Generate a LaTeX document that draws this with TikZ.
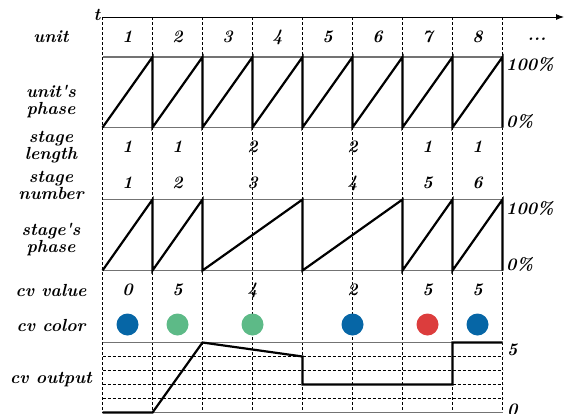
\documentclass[tikz,border=0pt]{standalone}
\usetikzlibrary{arrows.meta}
\definecolor{cvblue}{HTML}{0666A6}
\definecolor{cvgreen}{HTML}{5DBA87}
\definecolor{cvred}{HTML}{DC3D3D}
\begin{document}
\begin{tikzpicture}[x=1pt,y=-1pt,
  font=\fontsize{17.5}{17}\selectfont\bfseries\itshape,
  lbl/.style={align=center, inner sep=0pt},
  val/.style={inner sep=0pt},
  gridline/.style={dash pattern=on 3pt off 2pt, line width=0.7pt},
  rail/.style={black!55, line width=1.2pt},
  wave/.style={line width=2.2pt, line join=miter},
  dot/.style={circle, minimum size=22pt, inner sep=0pt}]
\useasboundingbox (0,0) rectangle (565,413);

% vertical dashed grid
\foreach \i in {0,...,8} {
  \coordinate (vt\i) at (102.5+50*\i,17);
  \coordinate (vb\i) at (102.5+50*\i,413);
  \draw[gridline] (vt\i) -- (vb\i);
}
% time axis
\coordinate (tend) at (564,17);
\draw[line width=0.9pt, -{Latex[length=8pt,width=6pt]}] (vt0) -- (tend);
\node[val, anchor=base east] (tlab) at (100.5,20) {t};

% left labels
\node[lbl] (Lunit) at (51,37) {unit};
\node[lbl] (Luph) at (51,101.5) {unit\textquotesingle s\\phase};
\node[lbl] (Lslen) at (51,147.5) {stage\\length};
\node[lbl] (Lsnum) at (51,185) {stage\\number};
\node[lbl] (Lsph) at (51,240) {stage\textquotesingle s\\phase};
\node[lbl] (Lcvv) at (51,290) {cv value};
\node[lbl] (Lcvc) at (51,325) {cv color};
\node[lbl] (Lcvo) at (51,380) {cv output};

% unit numbers
\foreach \i in {1,...,8} {
  \node[val] (u\i) at (77.5+50*\i,37) {\i};
}
\node[val] (udots) at (537,39) {...};

% unit's phase box
\coordinate (ua0) at (102.5,57);   \coordinate (ua1) at (502.5,57);
\coordinate (ub0) at (102.5,127.5); \coordinate (ub1) at (502.5,127.5);
\draw[rail] (ua0) -- (ua1);
\draw[rail] (ub0) -- (ub1);
\draw[wave] (102.5,127.5)
  \foreach \i in {1,...,8} { -- (102.5+50*\i,57) -- (102.5+50*\i,127.5) };
\node[val, anchor=north west] (u100) at (506,57) {100\%};
\node[val, anchor=south west] (u0) at (506,128.5) {0\%};

% stage length / number
\node[val] (sl1) at (127.5,147) {1};
\node[val] (sl2) at (177.5,147) {1};
\node[val] (sl3) at (252.5,147) {2};
\node[val] (sl4) at (352.5,147) {2};
\node[val] (sl5) at (427.5,147) {1};
\node[val] (sl6) at (477.5,147) {1};
\node[val] (sn1) at (127.5,183) {1};
\node[val] (sn2) at (177.5,183) {2};
\node[val] (sn3) at (252.5,183) {3};
\node[val] (sn4) at (352.5,183) {4};
\node[val] (sn5) at (427.5,183) {5};
\node[val] (sn6) at (477.5,183) {6};

% stage's phase box
\coordinate (sa0) at (102.5,199.5); \coordinate (sa1) at (502.5,199.5);
\coordinate (sb0) at (102.5,270.5); \coordinate (sb1) at (502.5,270.5);
\draw[rail] (sa0) -- (sa1);
\draw[rail] (sb0) -- (sb1);
\draw[wave] (102.5,270.5) -- (152.5,199.5) -- (152.5,270.5)
  -- (202.5,199.5) -- (202.5,270.5)
  -- (302.5,199.5) -- (302.5,270.5)
  -- (402.5,199.5) -- (402.5,270.5)
  -- (452.5,199.5) -- (452.5,270.5)
  -- (502.5,199.5) -- (502.5,270.5);
\node[val, anchor=north west] (s100) at (506,201) {100\%};
\node[val, anchor=south west] (s0) at (506,272) {0\%};

% cv value
\node[val] (cv1) at (127.5,290) {0};
\node[val] (cv2) at (177.5,290) {5};
\node[val] (cv3) at (252.5,290) {4};
\node[val] (cv4) at (352.5,290) {2};
\node[val] (cv5) at (427.5,290) {5};
\node[val] (cv6) at (477.5,290) {5};

% cv color
\node[dot, fill=cvblue]  (cc1) at (127.5,324.5) {};
\node[dot, fill=cvgreen] (cc2) at (177.5,324.5) {};
\node[dot, fill=cvgreen] (cc3) at (252.5,324.5) {};
\node[dot, fill=cvblue]  (cc4) at (352.5,324.5) {};
\node[dot, fill=cvred]   (cc5) at (427.5,324.5) {};
\node[dot, fill=cvblue]  (cc6) at (477.5,324.5) {};

% cv output
\coordinate (oa0) at (102.5,342.5); \coordinate (oa1) at (502.5,342.5);
\coordinate (ob0) at (102.5,412.5); \coordinate (ob1) at (502.5,412.5);
\foreach \j in {1,...,4} {
  \coordinate (od\j a) at (102.5,342.5+14*\j);
  \coordinate (od\j b) at (502.5,342.5+14*\j);
  \draw[gridline] (od\j a) -- (od\j b);
}
\draw[rail] (oa0) -- (oa1);
\draw[rail] (ob0) -- (ob1);
\draw[wave] (102.5,412.5) -- (152.5,412.5) -- (202.5,342.5) -- (302.5,356.5)
  -- (302.5,384.5) -- (452.5,384.5) -- (452.5,342.5) -- (502.5,342.5);
\node[val, anchor=north west] (o5) at (507,344) {5};
\node[val, anchor=north west] (o0) at (507,404) {0};
\end{tikzpicture}
\end{document}
